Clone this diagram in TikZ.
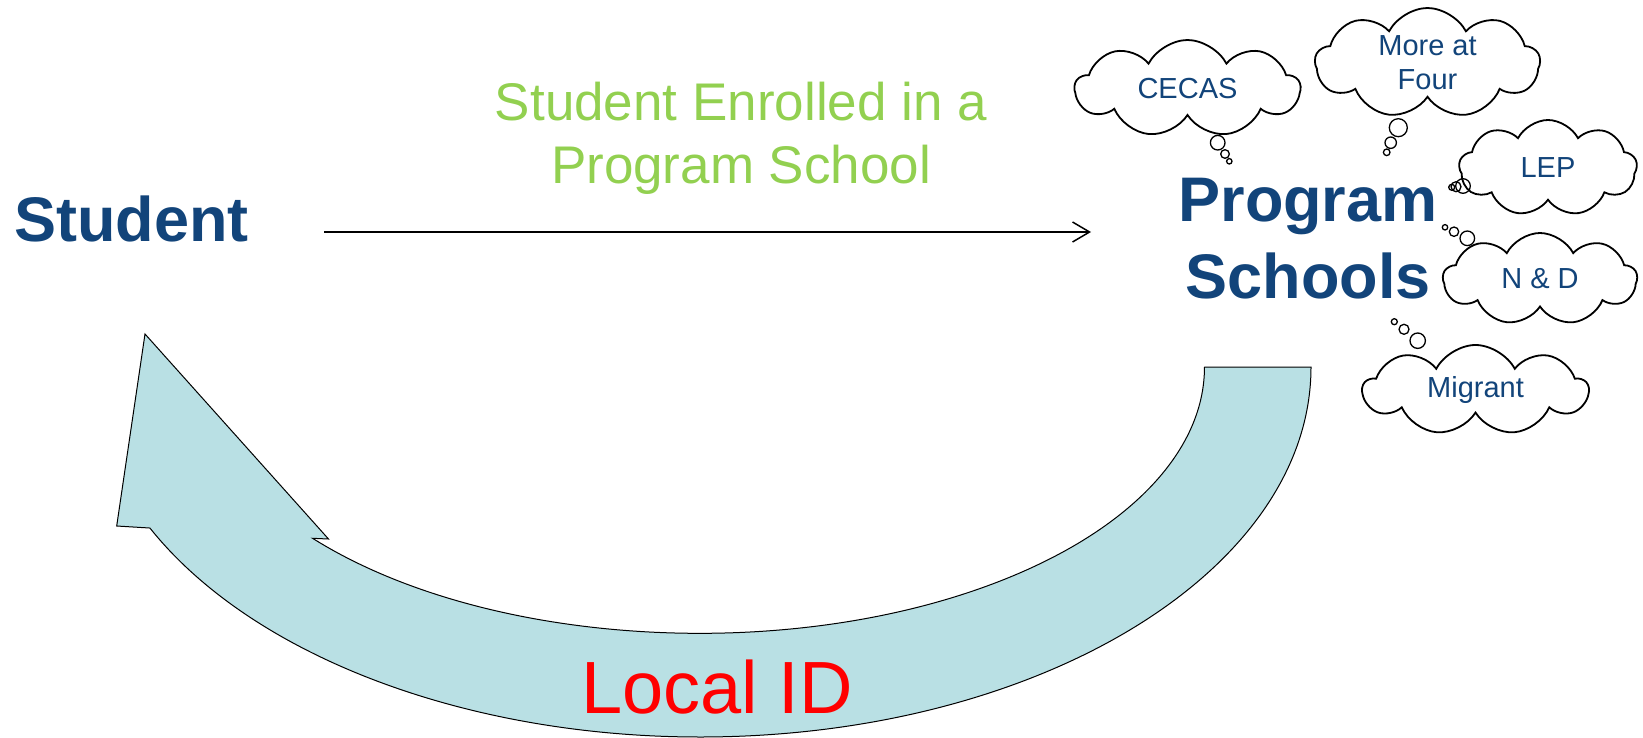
\documentclass[tikz,border=0pt]{standalone}
\usepackage{fontspec}
\setmainfont{Liberation Sans}
\usetikzlibrary{shapes.symbols,arrows.meta}
\definecolor{titleblue}{RGB}{18,68,122}
\definecolor{enrolgreen}{RGB}{146,208,80}
\definecolor{returnfill}{RGB}{185,224,228}
\tikzset{
  bigword/.style={font=\fontsize{63}{77}\selectfont\bfseries, text=titleblue, inner sep=0pt, align=center},
  thought/.style={cloud, cloud puffs=9, cloud puff arc=125, cloud ignores aspect, draw=black, line width=1.8pt,
    fill=white, text=titleblue, font=\fontsize{29}{34}\selectfont, align=center, inner sep=0pt},
  flow/.style={line width=1.5pt, -{Straight Barb[length=17pt, width=20pt, line width=1.5pt]}}
}

\begin{document}
\begin{tikzpicture}[x=1pt,y=-1pt]
\useasboundingbox (0,0) rectangle (1643,738);

% curved return arrow
\draw [black, line width=1pt, fill=returnfill] (1205,367) -- (1311,367)
  arc [start angle=0, end angle=154.2, x radius=611, y radius=370]
  -- (116.7,526) -- (145,334) -- (328.5,539) -- (312.6,538.3)
  arc [start angle=140, end angle=0, x radius=505, y radius=266] -- cycle;
\node [font=\fontsize{74}{80}\selectfont, text=red, anchor=base west, inner sep=0pt] (localid) at (581,713) {Local ID};

% the two ends
\node [bigword, anchor=base west] (student) at (14,241) {Student};
\node [bigword] (program) at (1308,239) {Program\\Schools};

\node [font=\fontsize{53}{63}\selectfont, text=enrolgreen, align=center, inner sep=0pt] (enrolled) at (741,138) {Student Enrolled in a\\Program School};

\coordinate (enrolA) at (324,232);
\coordinate (enrolB) at (1091,232);
\draw [flow] (enrolA) -- (enrolB);

% programs
\node [thought, minimum width=225pt, minimum height=97pt] (cecas) at (1187.5,88.5) {CECAS};
\node [thought, minimum width=225pt, minimum height=110pt] (morefour) at (1427.5,63) {More at\\Four};
\node [thought, minimum width=178pt, minimum height=96pt] (lep) at (1548,168) {LEP};
\node [thought, minimum width=194pt, minimum height=92pt] (nd) at (1540,279) {N \& D};
\node [thought, minimum width=225pt, minimum height=90pt] (migrant) at (1475.5,390) {Migrant};

% thought bubbles
\draw [black, line width=1.3pt] (1217.7,142.7) circle (7.3);
\draw [black, line width=1.3pt] (1225,154) circle (4.3);
\draw [black, line width=1.3pt] (1229.3,161.3) circle (2.7);
\draw [black, line width=1.3pt] (1398.3,127.7) circle (9);
\draw [black, line width=1.3pt] (1390.7,142.7) circle (5.7);
\draw [black, line width=1.3pt] (1386.7,152.3) circle (3.3);
\draw [black, line width=1.3pt] (1463,186) circle (7.3);
\draw [black, line width=1.3pt] (1456,186.7) circle (5);
\draw [black, line width=1.3pt] (1451.7,187.3) circle (3);
\draw [black, line width=1.3pt] (1467.3,238.3) circle (7.3);
\draw [black, line width=1.3pt] (1454,231.7) circle (4.7);
\draw [black, line width=1.3pt] (1445,227.3) circle (2.7);
\draw [black, line width=1.3pt] (1417.7,340.7) circle (7.7);
\draw [black, line width=1.3pt] (1404,329.3) circle (5);
\draw [black, line width=1.3pt] (1394.3,321.7) circle (3);
\end{tikzpicture}
\end{document}
